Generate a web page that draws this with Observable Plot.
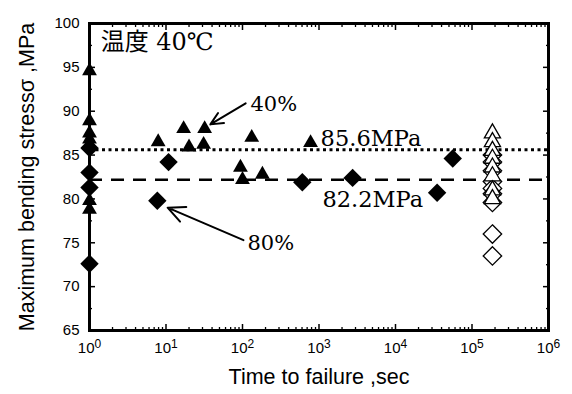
<!DOCTYPE html>
<html>
<head>
<meta charset="utf-8">
<script src="https://cdn.jsdelivr.net/npm/d3@7"></script>
<script src="https://cdn.jsdelivr.net/npm/@observablehq/plot@0.6"></script>
<style>
  html, body { margin: 0; padding: 0; background: #fff; }
  #chart svg { display: block; }
</style>
</head>
<body>
<div id="chart"></div>
<script>
// Filled triangles: 40% load level (failed)
const tri40X = [1, 1, 1, 1, 1, 1, 1, 7.9, 17, 32, 20, 31, 132, 94, 100, 182, 776];
const tri40Y = [94.6, 88.9, 87.5, 86.8, 86.2, 79.8, 78.8, 86.5, 88.0, 88.0, 85.9, 86.2, 87.0, 83.6, 82.2, 82.8, 86.4];
// Filled diamonds: 80% load level (failed)
const dia80X = [1, 1, 1, 1, 7.7, 10.8, 605, 2750, 35000, 56000];
const dia80Y = [85.8, 83.0, 81.3, 72.6, 79.8, 84.2, 81.9, 82.4, 80.7, 84.6];
// Open markers: run-outs
const runoutTime = 1.85e5;
const runTriY = [87.5, 86.5, 85.5, 84.6, 83.6, 82.6, 81.0, 80.0];
const runDiaY = [85.0, 84.2, 83.2, 82.0, 81.2, 80.6, 79.6, 76.0, 73.5];
// Mean lines
const meanLevels = [85.6, 82.2];
const meanLabels = ["85.6MPa", "82.2MPa"];
const meanLabelX = [1050, 1110];
const meanLabelY = [86.9, 79.9];
// Annotations
const arrowFromX = [110, 103];
const arrowFromY = [90.9, 75.3];
const arrowToX = [38, 10.5];
const arrowToY = [88.5, 79.0];
const noteText = ["40%", "80%"];
const noteX = [127, 116];
const noteY = [90.8, 74.9];
const titleText = "温度 40℃";
// Axis ticks
const xMajor = [1, 10, 100, 1e3, 1e4, 1e5, 1e6];
const yMajor = [65, 70, 75, 80, 85, 90, 95, 100];
const yMinor = [67.5, 72.5, 77.5, 82.5, 87.5, 92.5, 97.5];
const xMinor = d3.scaleLog().domain([1, 1e6]).ticks().filter(v => !xMajor.includes(v));

const tri = tri40X.map((x, i) => ({x, y: tri40Y[i]}));
const dia = dia80X.map((x, i) => ({x, y: dia80Y[i]}));
const runTri = runTriY.map(y => ({x: runoutTime, y}));
const runDia = runDiaY.map(y => ({x: runoutTime, y}));
const means = meanLevels.map((v, i) => ({v, label: meanLabels[i], x: meanLabelX[i], y: meanLabelY[i]}));
const arrows = arrowFromX.map((x, i) => ({x1: x, y1: arrowFromY[i], x2: arrowToX[i], y2: arrowToY[i]}));
const notes = noteText.map((t, i) => ({t, x: noteX[i], y: noteY[i]}));

const serif = "'DejaVu Serif', 'Liberation Serif', 'Noto Sans CJK JP', serif";

const chart = Plot.plot({
  width: 572,
  height: 394,
  marginLeft: 89,
  marginRight: 24,
  marginTop: 23,
  marginBottom: 64,
  style: {fontFamily: "'Liberation Sans', Arial, sans-serif", fontSize: "15px", background: "#fff", color: "#000", overflow: "visible"},
  x: {type: "log", domain: [1, 1e6]},
  y: {domain: [65, 100]},
  marks: [
    // reference lines
    Plot.ruleY([meanLevels[0]], {stroke: "#000", strokeWidth: 3, strokeDasharray: "3,3.5"}),
    Plot.ruleY([meanLevels[1]], {stroke: "#000", strokeWidth: 2.5, strokeDasharray: "13,9"}),
    // tick marks (inward)
    Plot.axisX({anchor: "bottom", ticks: xMinor, tickSize: -3, text: null, label: null, strokeWidth: 1.3}),
    Plot.axisX({anchor: "top", ticks: xMinor, tickSize: -3, text: null, label: null, strokeWidth: 1.3}),
    Plot.axisX({anchor: "bottom", ticks: xMajor, tickSize: -6, text: null, label: null, strokeWidth: 1.5}),
    Plot.axisX({anchor: "top", ticks: xMajor, tickSize: -6, text: null, label: null, strokeWidth: 1.5}),
    Plot.axisY({anchor: "left", ticks: yMajor, tickSize: -6, text: null, label: null, strokeWidth: 1.5}),
    Plot.axisY({anchor: "right", ticks: yMajor, tickSize: -6, text: null, label: null, strokeWidth: 1.5}),
    Plot.axisY({anchor: "left", ticks: yMinor, tickSize: -3, text: null, label: null, strokeWidth: 1.3}),
    Plot.axisY({anchor: "right", ticks: yMinor, tickSize: -3, text: null, label: null, strokeWidth: 1.3}),
    // tick labels
    Plot.axisX({anchor: "bottom", ticks: xMajor, tickSize: 0, tickPadding: 12, label: null,
      tickFormat: d => "10^" + Math.round(Math.log10(d))}),
    Plot.axisY({anchor: "left", ticks: yMajor, tickSize: 0, tickPadding: 10, label: null}),
    // axis titles
    Plot.text(["Time to failure ,sec"], {frameAnchor: "bottom", dy: 53, fontSize: 21.5, textAnchor: "middle", text: d => d}),
    Plot.text(["Maximum bending stressσ ,MPa"], {frameAnchor: "left", dx: -62, rotate: -90, fontSize: 21.5, textAnchor: "middle", text: d => d}),
    // data
    Plot.dot(runDia, {x: "x", y: "y", symbol: "diamond2", r: 8.3, fill: "#fff", stroke: "#000", strokeWidth: 1.3}),
    Plot.dot(runTri, {x: "x", y: "y", symbol: "triangle", r: 6, fill: "#fff", stroke: "#000", strokeWidth: 1.3}),
    Plot.dot(dia, {x: "x", y: "y", symbol: "diamond2", r: 8.3, fill: "#000", stroke: "none"}),
    Plot.dot(tri, {x: "x", y: "y", symbol: "triangle", r: 5.5, fill: "#000", stroke: "none"}),
    // annotations
    Plot.text(means, {x: "x", y: "y", text: "label", textAnchor: "start", fontFamily: serif, fontSize: 22.5}),
    Plot.arrow(arrows, {x1: "x1", y1: "y1", x2: "x2", y2: "y2", stroke: "#000", strokeWidth: 2, headLength: 14, headAngle: 50}),
    Plot.text(notes, {x: "x", y: "y", text: "t", textAnchor: "start", fontFamily: serif, fontSize: 21}),
    Plot.text([titleText], {x: 1.4, y: 97.8, text: d => d, textAnchor: "start", fontFamily: serif, fontSize: 24}),
    Plot.frame({stroke: "#000", strokeWidth: 3})
  ]
});

// superscript exponents on x tick labels
d3.select(chart).selectAll('g[aria-label="x-axis tick label"] text').each(function() {
  const s = this.textContent;
  if (!s.includes("^")) return;
  const [base, exp] = s.split("^");
  const t = d3.select(this);
  t.text("");
  t.append("tspan").text(base);
  t.append("tspan").attr("dy", "-0.45em").attr("font-size", "12px").text(exp);
});

document.getElementById("chart").appendChild(chart);
</script>
</body>
</html>
